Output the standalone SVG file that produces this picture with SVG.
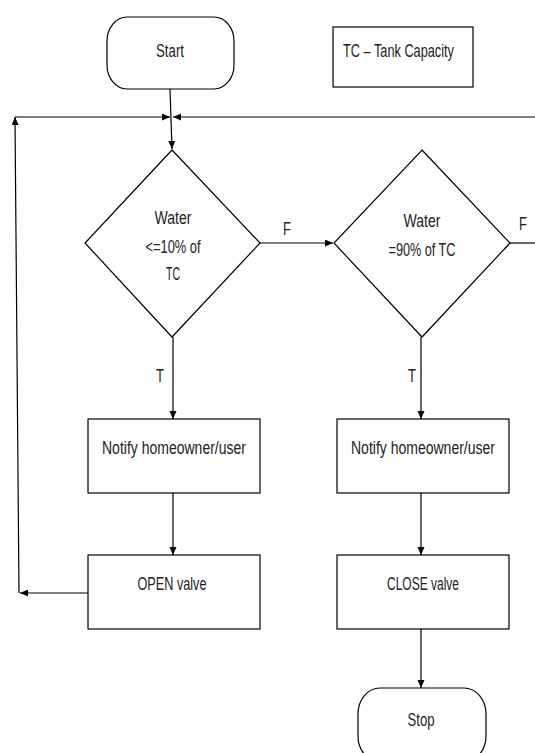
<svg xmlns="http://www.w3.org/2000/svg" width="535" height="753" viewBox="0 0 535 753">
<style>
.s{fill:#fff;stroke:#000;stroke-width:1.2}
.t{font-family:"Liberation Sans",Arial,sans-serif;font-size:17.5px;fill:#222}
.c{text-anchor:middle}
.l{fill:none;stroke:#000;stroke-width:1.2}
</style>
<defs>
<marker id="a" markerUnits="userSpaceOnUse" markerWidth="9" markerHeight="8" refX="8" refY="3.5" orient="auto"><path d="M0,0 L8,3.5 L0,7 z" fill="#000"/></marker>
</defs>
<g id="connectors">
<line class="l" x1="170" y1="89" x2="172" y2="149" marker-end="url(#a)"/>
<line class="l" x1="88" y1="593" x2="20" y2="593" marker-end="url(#a)"/>
<line class="l" x1="19" y1="593" x2="15" y2="117" marker-end="url(#a)"/>
<line class="l" x1="15" y1="117" x2="170" y2="117" marker-end="url(#a)"/>
<line class="l" x1="535" y1="117" x2="173" y2="117" marker-end="url(#a)"/>
<line class="l" x1="260" y1="243" x2="333" y2="243" marker-end="url(#a)"/>
<line class="l" x1="510" y1="243" x2="535" y2="243"/>
<line class="l" x1="173" y1="337" x2="173" y2="419" marker-end="url(#a)"/>
<line class="l" x1="421" y1="337" x2="421" y2="419" marker-end="url(#a)"/>
<line class="l" x1="173" y1="493" x2="173" y2="555" marker-end="url(#a)"/>
<line class="l" x1="421" y1="493" x2="421" y2="555" marker-end="url(#a)"/>
<line class="l" x1="421" y1="629" x2="421" y2="688" marker-end="url(#a)"/>
<text class="t c" x="287" y="235" textLength="8" lengthAdjust="spacingAndGlyphs">F</text>
<text class="t c" x="523" y="230" textLength="8" lengthAdjust="spacingAndGlyphs">F</text>
<text class="t c" x="160" y="382" textLength="8" lengthAdjust="spacingAndGlyphs">T</text>
<text class="t c" x="412" y="382" textLength="8" lengthAdjust="spacingAndGlyphs">T</text>
</g>
<g id="start">
<rect class="s" x="107" y="17" width="127" height="72" rx="20" ry="24"/>
<text class="t c" x="170" y="57" textLength="28" lengthAdjust="spacingAndGlyphs">Start</text>
</g>
<g id="legend">
<rect class="s" x="333" y="27" width="140" height="60"/>
<text class="t" x="343" y="57" textLength="111" lengthAdjust="spacingAndGlyphs">TC – Tank Capacity</text>
</g>
<g id="decision1">
<polygon class="s" points="172,150 260,243 172,337 85,243"/>
<text class="t c" x="173" y="224" textLength="37" lengthAdjust="spacingAndGlyphs">Water</text>
<text class="t c" x="173" y="253" textLength="55" lengthAdjust="spacingAndGlyphs">&lt;=10% of</text>
<text class="t c" x="173" y="280" textLength="14" lengthAdjust="spacingAndGlyphs">TC</text>
</g>
<g id="decision2">
<polygon class="s" points="422,150 510,243 422,337 334,243"/>
<text class="t c" x="422" y="227" textLength="37" lengthAdjust="spacingAndGlyphs">Water</text>
<text class="t c" x="422" y="256" textLength="67" lengthAdjust="spacingAndGlyphs">=90% of TC</text>
</g>
<g id="notify1">
<rect class="s" x="88" y="419" width="172" height="74"/>
<text class="t c" x="174" y="454" textLength="144" lengthAdjust="spacingAndGlyphs">Notify homeowner/user</text>
</g>
<g id="notify2">
<rect class="s" x="337" y="419" width="172" height="74"/>
<text class="t c" x="423" y="454" textLength="144" lengthAdjust="spacingAndGlyphs">Notify homeowner/user</text>
</g>
<g id="open">
<rect class="s" x="88" y="555" width="172" height="74"/>
<text class="t c" x="172" y="590" textLength="69" lengthAdjust="spacingAndGlyphs">OPEN valve</text>
</g>
<g id="close">
<rect class="s" x="337" y="555" width="172" height="74"/>
<text class="t c" x="423" y="590" textLength="72" lengthAdjust="spacingAndGlyphs">CLOSE valve</text>
</g>
<g id="stop">
<rect class="s" x="358" y="688" width="128" height="74" rx="22" ry="26"/>
<text class="t c" x="421" y="726" textLength="27" lengthAdjust="spacingAndGlyphs">Stop</text>
</g>
</svg>
